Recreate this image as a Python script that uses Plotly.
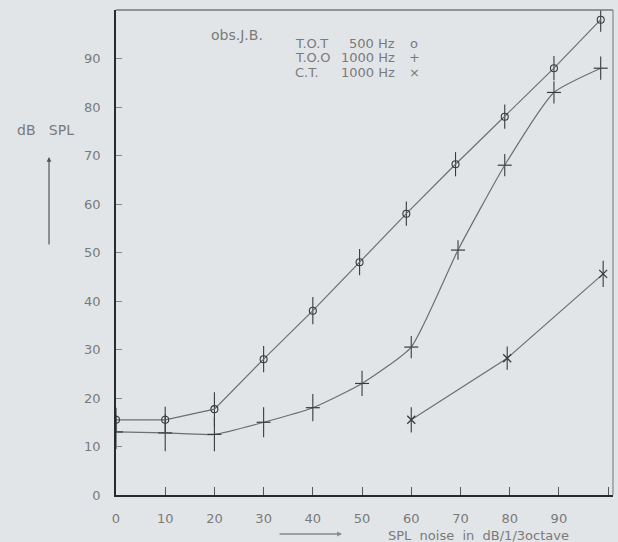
import plotly.graph_objects as go

# ---- data ----
tot_x = [0, 10, 20, 30, 40, 49.5, 59, 69, 79, 89, 98.5]
tot_y = [15.5, 15.5, 17.7, 28, 38, 48, 58, 68.2, 78, 88, 98]
tot_err = [2.5, 2.7, 3.5, 2.7, 2.8, 2.7, 2.5, 2.5, 2.5, 2.5, 2.5]

too_x = [0, 10, 20, 30, 40, 50, 60, 69.5, 79, 89, 98.5]
too_y = [13, 12.8, 12.5, 15, 18, 23, 30.5, 50.5, 68, 83, 88]
too_err = [3.5, 3.8, 3.5, 3.1, 2.8, 2.6, 2.3, 2.0, 2.3, 2.3, 2.4]

ct_x = [60, 79.5, 99]
ct_y = [15.5, 28.2, 45.6]
ct_err = [2.6, 2.4, 2.7]

x_ticks = [0, 10, 20, 30, 40, 50, 60, 70, 80, 90, 100]
x_ticktext = ["0", "10", "20", "30", "40", "50", "60", "70", "80", "90", ""]
y_ticks = [0, 10, 20, 30, 40, 50, 60, 70, 80, 90]

BG = "rgb(226,229,231)"
LINE = "#6e6e6e"
MARK = "#3a3a3a"
TXT = "#7a7a7a"
FONT = "DejaVu Sans"

fig = go.Figure()

fig.add_trace(go.Scatter(
    x=tot_x, y=tot_y, mode="lines+markers", line=dict(color=LINE, width=1.2),
    marker=dict(symbol="circle-open", size=7, color=MARK, line=dict(width=1.1)),
    error_y=dict(type="data", array=tot_err, color=MARK, thickness=1.1, width=0),
    showlegend=False))

fig.add_trace(go.Scatter(
    x=too_x, y=too_y, mode="lines+markers",
    line=dict(color=LINE, width=1.2, shape="spline", smoothing=0.5),
    marker=dict(symbol="line-ew", size=10, color=MARK, line=dict(width=1.2, color=MARK)),
    error_y=dict(type="data", array=too_err, color=MARK, thickness=1.1, width=0),
    showlegend=False))

fig.add_trace(go.Scatter(
    x=ct_x, y=ct_y, mode="lines+markers", line=dict(color=LINE, width=1.2),
    marker=dict(symbol="x-thin", size=8, color=MARK, line=dict(width=1.3, color=MARK)),
    error_y=dict(type="data", array=ct_err, color=MARK, thickness=1.1, width=0),
    showlegend=False))

fig.update_xaxes(
    range=[0, 101], tickvals=x_ticks, ticktext=x_ticktext,
    ticks="inside", ticklen=8, tickwidth=1.2, tickcolor="#555",
    showline=True, linecolor="#2a2a2a", linewidth=1.6,
    showgrid=False, zeroline=False,
    tickfont=dict(family=FONT, size=13, color=TXT), ticklabelstandoff=11)

fig.update_yaxes(
    range=[0, 100], tickvals=y_ticks,
    ticks="inside", ticklen=6, tickwidth=1, tickcolor="#888",
    showline=True, linecolor="#2a2a2a", linewidth=1.6,
    showgrid=False, zeroline=False,
    tickfont=dict(family=FONT, size=13, color=TXT), ticklabelstandoff=11)

# top and right frame lines (lighter)
fig.add_shape(type="line", xref="paper", yref="paper", x0=0, x1=1, y0=1, y1=1,
              line=dict(color="#777", width=1.3))
fig.add_shape(type="line", xref="paper", yref="paper", x0=1, x1=1, y0=0, y1=1,
              line=dict(color="#888", width=1.2))

W, H, L, T = 497.0, 485.0, 116.0, 10.0
def px(xp): return (xp - L) / W
def py(yp): return 1 - (yp - T) / H

def txt(x, y, s, anchor="left", size=13):
    fig.add_annotation(x=px(x), y=py(y), xref="paper", yref="paper", text=s, showarrow=False,
                       xanchor=anchor, yanchor="middle",
                       font=dict(family=FONT, size=size, color=TXT))

txt(209, 35, "obs.J.B.", size=14)
rows = [("T.O.T", "500 Hz", "o", 44), ("T.O.O", "1000 Hz", "+", 58), ("C.T.", "1000 Hz", "×", 72)]
for lab, fr, sym, yy in rows:
    txt(293, yy, lab)
    txt(397, yy, fr, anchor="right")
    txt(414, yy, sym, anchor="center")

# axis titles with arrows
txt(45, 130, "dB   SPL", anchor="center", size=14)
fig.add_annotation(x=px(49), y=py(157), xref="paper", yref="paper",
                   axref="pixel", ayref="pixel", ax=0, ay=89, text="", showarrow=True,
                   arrowhead=2, arrowsize=0.8, arrowwidth=1.2, arrowcolor="#555")
txt(478, 535, "SPL  noise  in  dB/1/3octave", anchor="center", size=13)
fig.add_annotation(x=px(342), y=py(534), xref="paper", yref="paper",
                   axref="pixel", ayref="pixel", ax=-64, ay=0, text="", showarrow=True,
                   arrowhead=2, arrowsize=0.7, arrowwidth=1.4, arrowcolor="#888")

fig.update_layout(
    width=618, height=542,
    margin=dict(l=116, r=5, t=10, b=47),
    paper_bgcolor=BG, plot_bgcolor=BG,
    font=dict(family=FONT, color=TXT),
)

fig.write_html("out.html", config={"displayModeBar": False},
               post_script="document.body.style.margin='0';document.body.style.background='rgb(226,229,231)';")
